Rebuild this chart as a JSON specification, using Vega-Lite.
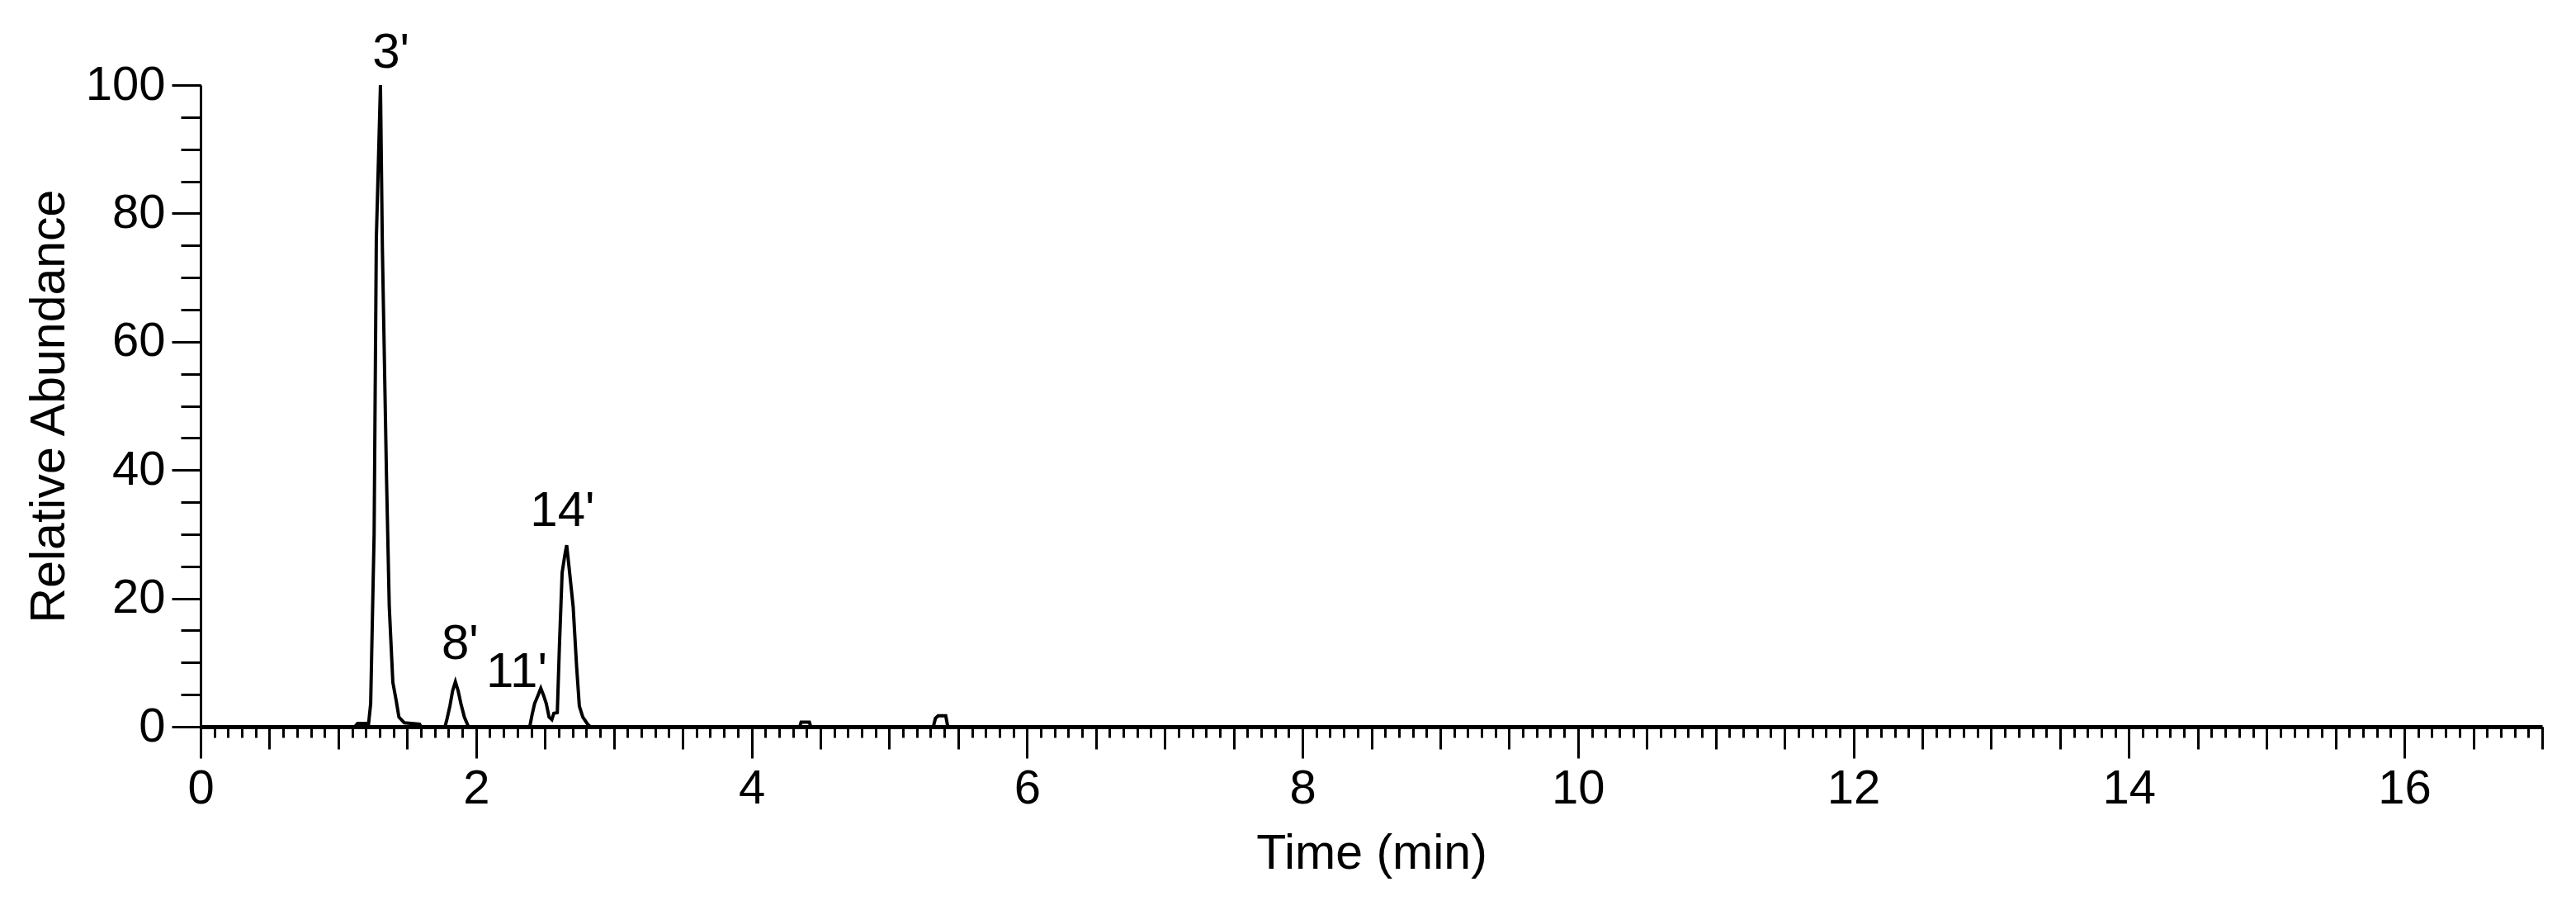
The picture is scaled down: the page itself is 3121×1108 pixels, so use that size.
{
  "$schema": "https://vega.github.io/schema/vega-lite/v6.json",
  "width": 2837,
  "height": 777,
  "autosize": {"type": "none"},
  "padding": {"left": 243, "top": 103, "right": 41, "bottom": 228},
  "background": "white",
  "config": {
    "view": {"stroke": null},
    "font": "Liberation Sans",
    "axis": {
      "domainColor": "black",
      "domainWidth": 3,
      "tickColor": "black",
      "tickWidth": 3,
      "grid": false,
      "labelColor": "black",
      "labelFont": "Liberation Sans",
      "labelFontSize": 58,
      "labelFlush": false,
      "labelOverlap": false,
      "labelBound": false,
      "titleColor": "black",
      "titleFont": "Liberation Sans",
      "titleFontSize": 59,
      "titleFontWeight": "normal"
    }
  },
  "datasets": {
    "trace": [
      {"time": 0, "abundance": 0},
      {"time": 1.12, "abundance": 0},
      {"time": 1.14, "abundance": 0.5},
      {"time": 1.22, "abundance": 0.5},
      {"time": 1.235, "abundance": 3.6},
      {"time": 1.26, "abundance": 30},
      {"time": 1.276, "abundance": 76},
      {"time": 1.306, "abundance": 100},
      {"time": 1.32, "abundance": 74.6},
      {"time": 1.35, "abundance": 38.8},
      {"time": 1.37, "abundance": 18.7},
      {"time": 1.396, "abundance": 6.9},
      {"time": 1.42, "abundance": 4.1},
      {"time": 1.44, "abundance": 1.5},
      {"time": 1.48, "abundance": 0.6},
      {"time": 1.59, "abundance": 0.4},
      {"time": 1.6, "abundance": 0},
      {"time": 1.775, "abundance": 0},
      {"time": 1.79, "abundance": 1.3},
      {"time": 1.81, "abundance": 3.2},
      {"time": 1.83, "abundance": 5.6},
      {"time": 1.85, "abundance": 7.0},
      {"time": 1.87, "abundance": 5.6},
      {"time": 1.89, "abundance": 3.6},
      {"time": 1.915, "abundance": 1.5},
      {"time": 1.945, "abundance": 0},
      {"time": 2.39, "abundance": 0},
      {"time": 2.405, "abundance": 1.7},
      {"time": 2.425, "abundance": 3.6},
      {"time": 2.45, "abundance": 4.9},
      {"time": 2.47, "abundance": 6.0},
      {"time": 2.49, "abundance": 4.9},
      {"time": 2.51, "abundance": 3.6},
      {"time": 2.53, "abundance": 1.5},
      {"time": 2.55, "abundance": 1.1},
      {"time": 2.565, "abundance": 2.1},
      {"time": 2.59, "abundance": 2.2},
      {"time": 2.605, "abundance": 12.4},
      {"time": 2.625, "abundance": 24},
      {"time": 2.645, "abundance": 26.8},
      {"time": 2.658, "abundance": 28.3},
      {"time": 2.675, "abundance": 24.9},
      {"time": 2.705, "abundance": 18.7},
      {"time": 2.73, "abundance": 9.4},
      {"time": 2.75, "abundance": 3.2},
      {"time": 2.775, "abundance": 1.5},
      {"time": 2.81, "abundance": 0.4},
      {"time": 2.83, "abundance": 0},
      {"time": 4.35, "abundance": 0},
      {"time": 4.36, "abundance": 0.7},
      {"time": 4.42, "abundance": 0.7},
      {"time": 4.43, "abundance": 0},
      {"time": 5.32, "abundance": 0},
      {"time": 5.335, "abundance": 1.3},
      {"time": 5.355, "abundance": 1.7},
      {"time": 5.41, "abundance": 1.7},
      {"time": 5.425, "abundance": 0},
      {"time": 17, "abundance": 0}
    ],
    "peaks": [
      {"time": 1.382, "abundance": 102.7, "label": "3'"},
      {"time": 1.884, "abundance": 10.55, "label": "8'"},
      {"time": 2.295, "abundance": 6.2, "label": "11'"},
      {"time": 2.627, "abundance": 31.3, "label": "14'"}
    ]
  },
  "layer": [
    {
      "data": {"name": "trace"},
      "mark": {"type": "point", "opacity": 0},
      "encoding": {
        "x": {
          "field": "time", "type": "quantitative",
          "scale": {"domain": [0, 17], "nice": false, "zero": false},
          "axis": {
            "orient": "bottom",
            "values": [0, 0.1, 0.2, 0.3, 0.4, 0.5, 0.6, 0.7, 0.8, 0.9, 1, 1.1, 1.2, 1.3, 1.4, 1.5, 1.6, 1.7, 1.8, 1.9, 2, 2.1, 2.2, 2.3, 2.4, 2.5, 2.6, 2.7, 2.8, 2.9, 3, 3.1, 3.2, 3.3, 3.4, 3.5, 3.6, 3.7, 3.8, 3.9, 4, 4.1, 4.2, 4.3, 4.4, 4.5, 4.6, 4.7, 4.8, 4.9, 5, 5.1, 5.2, 5.3, 5.4, 5.5, 5.6, 5.7, 5.8, 5.9, 6, 6.1, 6.2, 6.3, 6.4, 6.5, 6.6, 6.7, 6.8, 6.9, 7, 7.1, 7.2, 7.3, 7.4, 7.5, 7.6, 7.7, 7.8, 7.9, 8, 8.1, 8.2, 8.3, 8.4, 8.5, 8.6, 8.7, 8.8, 8.9, 9, 9.1, 9.2, 9.3, 9.4, 9.5, 9.6, 9.7, 9.8, 9.9, 10, 10.1, 10.2, 10.3, 10.4, 10.5, 10.6, 10.7, 10.8, 10.9, 11, 11.1, 11.2, 11.3, 11.4, 11.5, 11.6, 11.7, 11.8, 11.9, 12, 12.1, 12.2, 12.3, 12.4, 12.5, 12.6, 12.7, 12.8, 12.9, 13, 13.1, 13.2, 13.3, 13.4, 13.5, 13.6, 13.7, 13.8, 13.9, 14, 14.1, 14.2, 14.3, 14.4, 14.5, 14.6, 14.7, 14.8, 14.9, 15, 15.1, 15.2, 15.3, 15.4, 15.5, 15.6, 15.7, 15.8, 15.9, 16, 16.1, 16.2, 16.3, 16.4, 16.5, 16.6, 16.7, 16.8, 16.9, 17],
            "tickSize": 13, "domain": false, "labels": false, "title": null
          }
        },
        "y": {
          "field": "abundance", "type": "quantitative",
          "scale": {"domain": [0, 100], "nice": false},
          "axis": {
            "orient": "left",
            "values": [0, 5, 10, 15, 20, 25, 30, 35, 40, 45, 50, 55, 60, 65, 70, 75, 80, 85, 90, 95, 100],
            "tickSize": 24, "domain": false, "labels": false, "title": null
          }
        }
      }
    },
    {
      "data": {"name": "peaks"},
      "mark": {"type": "text", "color": "black", "font": "Liberation Sans", "fontSize": 60, "align": "center", "baseline": "alphabetic"},
      "encoding": {
        "x": {
          "field": "time", "type": "quantitative",
          "axis": {
            "orient": "bottom",
            "values": [0, 0.5, 1, 1.5, 2, 2.5, 3, 3.5, 4, 4.5, 5, 5.5, 6, 6.5, 7, 7.5, 8, 8.5, 9, 9.5, 10, 10.5, 11, 11.5, 12, 12.5, 13, 13.5, 14, 14.5, 15, 15.5, 16, 16.5, 17],
            "tickSize": 27, "domain": false, "labels": false, "title": null
          }
        },
        "y": {"field": "abundance", "type": "quantitative", "axis": null},
        "text": {"field": "label", "type": "nominal"}
      }
    },
    {
      "data": {"name": "trace"},
      "mark": {"type": "line", "color": "black", "strokeWidth": 4, "interpolate": "linear"},
      "encoding": {
        "x": {
          "field": "time", "type": "quantitative",
          "axis": {
            "orient": "bottom",
            "values": [0, 2, 4, 6, 8, 10, 12, 14, 16],
            "tickSize": 38,
            "domainWidth": 5,
            "labelPadding": 8,
            "title": "Time (min)",
            "titlePadding": 20
          }
        },
        "y": {
          "field": "abundance", "type": "quantitative",
          "axis": {
            "orient": "left",
            "values": [0, 20, 40, 60, 80, 100],
            "tickSize": 35,
            "labelPadding": 8,
            "title": "Relative Abundance",
            "titlePadding": 14
          }
        }
      }
    }
  ],
  "resolve": {"axis": {"x": "independent", "y": "independent"}}
}
